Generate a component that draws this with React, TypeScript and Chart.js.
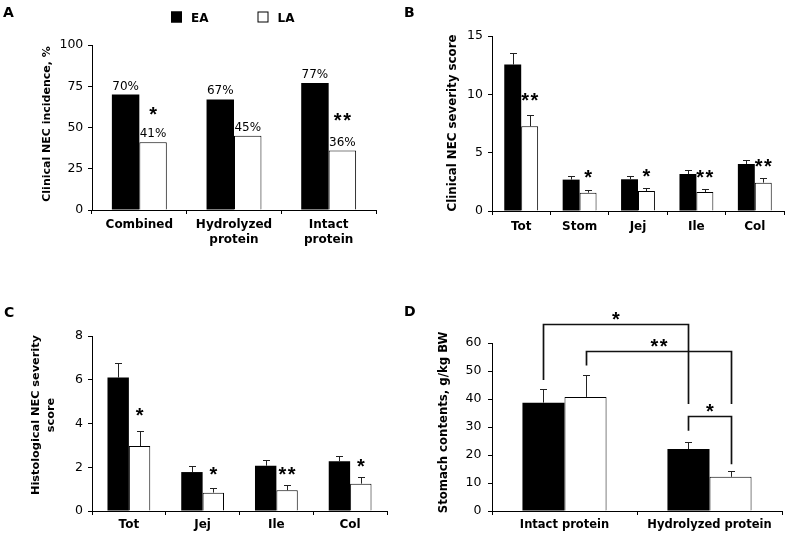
import { useEffect, useRef } from "react";
import { Chart, registerables } from "chart.js";

Chart.register(...registerables);

const FAMILY = "'DejaVu Sans', sans-serif";
const STAR_FAMILY = "'Liberation Sans', Arial, sans-serif";

const seriesNames = ["EA", "LA"];

// ---- Panel A: clinical NEC incidence, %
const aCategories: (string | string[])[] = ["Combined", ["Hydrolyzed", "protein"], ["Intact", "protein"]];
const aEA = [70, 67, 77];
const aLA = [41, 45, 36];
const aStars = ["*", "", "**"];
const aStarY = [61.5, 0, 57.5];

// ---- Panel B: clinical NEC severity score
const bCategories = ["Tot", "Stom", "Jej", "Ile", "Col"];
const bEA = [12.55, 2.69, 2.72, 3.17, 4.03];
const bEAErr = [1.02, 0.28, 0.31, 0.32, 0.31];
const bLA = [7.26, 1.57, 1.71, 1.63, 2.43];
const bLAErr = [1.0, 0.2, 0.26, 0.29, 0.37];
const bStars = ["**", "*", "*", "**", "**"];
const bStarY = [9.95, 3.35, 3.4, 3.35, 4.25];

// ---- Panel C: histological NEC severity score
const cCategories = ["Tot", "Jej", "Ile", "Col"];
const cEA = [6.1, 1.78, 2.07, 2.27];
const cEAErr = [0.67, 0.26, 0.28, 0.24];
const cLA = [2.97, 0.84, 0.95, 1.25];
const cLAErr = [0.7, 0.21, 0.25, 0.3];
const cStars = ["*", "*", "**", "*"];
const cStarY = [4.6, 1.94, 1.94, 2.3];

// ---- Panel D: stomach contents, g/kg BW
const dCategories = ["Intact protein", "Hydrolyzed protein"];
const dEA = [38.7, 22.1];
const dEAErr = [5.0, 2.6];
const dLA = [40.75, 12.2];
const dLAErr = [7.75, 2.1];
// brackets: [fromDataset, fromCategory, toDataset, toCategory]
const dBracketEnds = [
  [0, 0, 0, 1],
  [1, 0, 1, 1],
  [0, 1, 1, 1],
];
const dBracketLeftY = [46.8, 52.0, 28.7];
const dBracketTopY = [66.9, 57.2, 33.9];
const dBracketRightY = [38.2, 38.2, 16.7];
const dBracketStars = ["*", "**", "*"];
const dBracketStarY = [70.5, 60.6, 37.5];

interface Spec {
  box: { left: number; top: number; width: number; height: number };
  plot: { left: number; right: number; top: number; bottom: number };
  xHeight: number;
  categories: (string | string[])[];
  ea: number[];
  la: number[];
  eaErr?: number[];
  laErr?: number[];
  yMax: number;
  yStep: number;
  xFont: number;
  xPad: number;
  yPad: number;
  title: string[];
  titleX: number;
  titleY: number;
  titleSize: number;
  titleLH: number;
  letter: string;
  letterX: number;
  letterY: number;
  stars: string[];
  starY: number[];
  valueLabels?: boolean;
  legend?: boolean;
  brackets?: boolean;
}

const specs: Spec[] = [
  {
    box: { left: 0, top: 0, width: 395, height: 265 },
    plot: { left: 92, right: 376, top: 45, bottom: 210 },
    xHeight: 40,
    categories: aCategories,
    ea: aEA,
    la: aLA,
    yMax: 100,
    yStep: 25,
    xFont: 12,
    xPad: 3.5,
    yPad: 4.7,
    title: ["Clinical NEC incidence, %"],
    titleX: 47,
    titleY: 124,
    titleSize: 11,
    titleLH: 14,
    letter: "A",
    letterX: 3,
    letterY: 17,
    stars: aStars,
    starY: aStarY,
    valueLabels: true,
    legend: true,
  },
  {
    box: { left: 395, top: 0, width: 394, height: 265 },
    plot: { left: 492, right: 784, top: 36, bottom: 211 },
    xHeight: 40,
    categories: bCategories,
    ea: bEA,
    la: bLA,
    eaErr: bEAErr,
    laErr: bLAErr,
    yMax: 15,
    yStep: 5,
    xFont: 12,
    xPad: 4,
    yPad: 5,
    title: ["Clinical NEC severity score"],
    titleX: 57.5,
    titleY: 123,
    titleSize: 11.8,
    titleLH: 14,
    letter: "B",
    letterX: 9,
    letterY: 17,
    stars: bStars,
    starY: bStarY,
  },
  {
    box: { left: 0, top: 265, width: 395, height: 273 },
    plot: { left: 92, right: 387, top: 336, bottom: 511 },
    xHeight: 20,
    categories: cCategories,
    ea: cEA,
    la: cLA,
    eaErr: cEAErr,
    laErr: cLAErr,
    yMax: 8,
    yStep: 2,
    xFont: 12,
    xPad: 2,
    yPad: 5,
    title: ["Histological NEC severity", "score"],
    titleX: 36,
    titleY: 150,
    titleSize: 11.3,
    titleLH: 15,
    letter: "C",
    letterX: 4,
    letterY: 52,
    stars: cStars,
    starY: cStarY,
  },
  {
    box: { left: 395, top: 265, width: 394, height: 273 },
    plot: { left: 492, right: 782, top: 343, bottom: 511 },
    xHeight: 20,
    categories: dCategories,
    ea: dEA,
    la: dLA,
    eaErr: dEAErr,
    laErr: dLAErr,
    yMax: 60,
    yStep: 10,
    xFont: 11.5,
    xPad: 3,
    yPad: 6.5,
    title: ["Stomach contents, g/kg BW"],
    titleX: 49,
    titleY: 157.5,
    titleSize: 11.7,
    titleLH: 14,
    letter: "D",
    letterX: 9,
    letterY: 51,
    stars: [],
    starY: [],
    brackets: true,
  },
];

function drawStar(ctx: CanvasRenderingContext2D, text: string, x: number, centerY: number) {
  const size = 20;
  ctx.save();
  ctx.font = `bold ${size}px ${STAR_FAMILY}`;
  ctx.fillStyle = "#000";
  ctx.textAlign = "center";
  ctx.textBaseline = "alphabetic";
  try {
    (ctx as any).letterSpacing = text.length > 1 ? "1.5px" : "0px";
  } catch (e) {
    /* ignore */
  }
  ctx.fillText(text, x + (text.length > 1 ? 0.75 : 0), centerY + size * 0.6);
  ctx.restore();
}

function makeExtras(spec: Spec) {
  return {
    id: "extras" + spec.letter,
    afterDraw(chart: any) {
      const ctx: CanvasRenderingContext2D = chart.ctx;
      const y = chart.scales.y;
      const metaEA = chart.getDatasetMeta(0);
      const metaLA = chart.getDatasetMeta(1);
      ctx.save();

      // error bars
      const errs = [spec.eaErr, spec.laErr];
      const vals = [spec.ea, spec.la];
      [metaEA, metaLA].forEach((meta: any, di: number) => {
        const err = errs[di];
        if (!err) return;
        meta.data.forEach((bar: any, j: number) => {
          const x = Math.round(bar.x) + 0.5;
          const y0 = y.getPixelForValue(vals[di][j]);
          const y1 = Math.round(y.getPixelForValue(vals[di][j] + err[j])) + 0.5;
          ctx.strokeStyle = "#222";
          ctx.lineWidth = 1;
          ctx.beginPath();
          ctx.moveTo(x, y0);
          ctx.lineTo(x, y1);
          ctx.moveTo(x - 3.5, y1);
          ctx.lineTo(x + 3.5, y1);
          ctx.stroke();
        });
      });

      // value labels
      if (spec.valueLabels) {
        ctx.font = `12px ${FAMILY}`;
        ctx.fillStyle = "#000";
        ctx.textAlign = "center";
        ctx.textBaseline = "alphabetic";
        [metaEA, metaLA].forEach((meta: any, di: number) => {
          meta.data.forEach((bar: any, j: number) => {
            const v = vals[di][j];
            ctx.fillText(`${v}%`, bar.x, y.getPixelForValue(v) - 5);
          });
        });
      }

      // significance stars above LA bars
      spec.stars.forEach((s, j) => {
        if (!s) return;
        const bar = metaLA.data[j];
        drawStar(ctx, s, bar.x, y.getPixelForValue(spec.starY[j]));
      });

      // brackets (panel D)
      if (spec.brackets) {
        dBracketEnds.forEach((e, k) => {
          const x1 = Math.round(chart.getDatasetMeta(e[0]).data[e[1]].x) + 0.5;
          const x2 = Math.round(chart.getDatasetMeta(e[2]).data[e[3]].x) + 0.5;
          const yl = y.getPixelForValue(dBracketLeftY[k]);
          const yt = Math.round(y.getPixelForValue(dBracketTopY[k])) + 0.5;
          const yr = y.getPixelForValue(dBracketRightY[k]);
          ctx.strokeStyle = "#111";
          ctx.lineWidth = 1.7;
          ctx.beginPath();
          ctx.moveTo(x1, yl);
          ctx.lineTo(x1, yt);
          ctx.lineTo(x2, yt);
          ctx.lineTo(x2, yr);
          ctx.stroke();
          drawStar(ctx, dBracketStars[k], (x1 + x2) / 2, y.getPixelForValue(dBracketStarY[k]));
        });
      }

      // legend (panel A)
      if (spec.legend) {
        const ds = chart.data.datasets;
        const boxLeft = [171, 257.5];
        ds.forEach((d: any, i: number) => {
          ctx.fillStyle = d.backgroundColor;
          ctx.fillRect(boxLeft[i], 11.5, 11, 11);
          ctx.strokeStyle = "#000";
          ctx.lineWidth = 1;
          ctx.strokeRect(boxLeft[i] + 0.5, 12, 10, 10);
          ctx.fillStyle = "#000";
          ctx.font = `bold 12px ${FAMILY}`;
          ctx.textAlign = "left";
          ctx.textBaseline = "alphabetic";
          ctx.fillText(d.label, boxLeft[i] + 20, 21.8);
        });
      }

      // axis title
      ctx.save();
      ctx.translate(spec.titleX, spec.titleY);
      ctx.rotate(-Math.PI / 2);
      ctx.font = `bold ${spec.titleSize}px ${FAMILY}`;
      ctx.fillStyle = "#000";
      ctx.textAlign = "center";
      ctx.textBaseline = "middle";
      spec.title.forEach((line, i) => ctx.fillText(line, 0, i * spec.titleLH));
      ctx.restore();

      // panel letter
      ctx.font = `bold 14px ${FAMILY}`;
      ctx.fillStyle = "#000";
      ctx.textAlign = "left";
      ctx.textBaseline = "alphabetic";
      ctx.fillText(spec.letter, spec.letterX, spec.letterY);

      ctx.restore();
    },
  };
}

function Panel({ spec }: { spec: Spec }) {
  const ref = useRef<HTMLCanvasElement | null>(null);
  useEffect(() => {
    const canvas = ref.current;
    if (!canvas) return;
    const { box, plot } = spec;
    const chart = new Chart(canvas, {
      type: "bar",
      data: {
        labels: spec.categories as any,
        datasets: [
          {
            label: seriesNames[0],
            data: spec.ea,
            backgroundColor: "#000000",
            borderColor: "#000000",
            borderWidth: 0,
          },
          {
            label: seriesNames[1],
            data: spec.la,
            backgroundColor: "#ffffff",
            borderColor: "#000000",
            borderWidth: 1,
          },
        ],
      },
      options: {
        animation: false,
        responsive: false,
        maintainAspectRatio: false,
        devicePixelRatio: 1,
        layout: {
          padding: {
            left: 0,
            top: plot.top - box.top,
            right: box.left + box.width - plot.right,
            bottom: box.top + box.height - plot.bottom - spec.xHeight,
          },
        },
        datasets: { bar: { categoryPercentage: 0.58, barPercentage: 1 } },
        plugins: { legend: { display: false }, tooltip: { enabled: false } },
        scales: {
          x: {
            grid: { offset: true, drawOnChartArea: false, drawTicks: true, tickLength: 4, color: "#000" },
            border: { display: true, color: "#000", width: 1 },
            ticks: {
              color: "#000",
              font: { family: FAMILY, size: spec.xFont, weight: "bold", lineHeight: 1.25 },
              padding: spec.xPad,
              maxRotation: 0,
              minRotation: 0,
              autoSkip: false,
            },
            afterFit: (s: any) => {
              s.height = spec.xHeight;
            },
          },
          y: {
            min: 0,
            max: spec.yMax,
            grid: { drawOnChartArea: false, drawTicks: true, tickLength: 4, color: "#000" },
            border: { display: true, color: "#000", width: 1 },
            ticks: {
              stepSize: spec.yStep,
              color: "#000",
              font: { family: FAMILY, size: 12.5 },
              padding: spec.yPad,
            },
            afterFit: (s: any) => {
              s.width = plot.left - box.left;
            },
          },
        },
      } as any,
      plugins: [makeExtras(spec)],
    });
    return () => chart.destroy();
  }, [spec]);
  const { box } = spec;
  return (
    <canvas
      ref={ref}
      width={box.width}
      height={box.height}
      style={{ position: "absolute", left: box.left, top: box.top, width: box.width, height: box.height }}
    />
  );
}

export default function App() {
  return (
    <div style={{ position: "fixed", left: 0, top: 0, width: 789, height: 538, background: "#fff", overflow: "hidden" }}>
      {specs.map((s) => (
        <Panel key={s.letter} spec={s} />
      ))}
    </div>
  );
}
